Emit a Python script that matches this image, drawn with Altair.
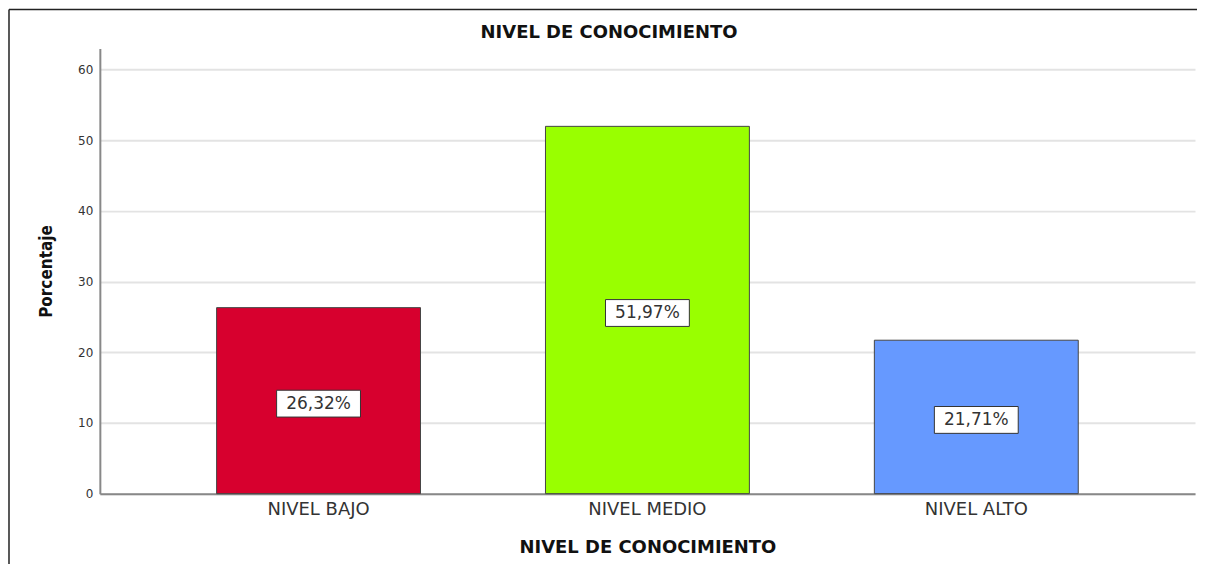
import altair as alt
import pandas as pd

categories = ["NIVEL BAJO", "NIVEL MEDIO", "NIVEL ALTO"]
values = [26.32, 51.97, 21.71]
labels = ["26,32%", "51,97%", "21,71%"]
colors = ["#d7002e", "#99ff00", "#6699ff"]
title_text = "NIVEL DE CONOCIMIENTO"

df = pd.DataFrame({"cat": categories, "val": values, "lab": labels})
df["mid"] = df["val"] / 2

x = alt.X("cat:N", sort=categories,
          scale=alt.Scale(paddingInner=0.38, paddingOuter=0.355),
          axis=alt.Axis(title=title_text, labelAngle=0, ticks=False,
                        labelFont="DejaVu Sans", labelFontSize=18, labelColor="#333333",
                        labelPadding=7, domainColor="#888888", domainWidth=2,
                        titleFont="DejaVu Sans", titleFontSize=18, titleFontWeight="bold",
                        titleColor="#111111", titlePadding=20))

bars = alt.Chart(df).mark_bar(stroke="#444444", strokeWidth=1).encode(
    x=x,
    y=alt.Y("val:Q", scale=alt.Scale(domain=[0, 63], nice=False),
            axis=alt.Axis(title="Porcentaje", values=[0, 10, 20, 30, 40, 50, 60],
                          ticks=False, labelFont="DejaVu Sans", labelFontSize=12,
                          labelColor="#333333", labelPadding=7,
                          domainColor="#888888", domainWidth=2,
                          gridColor="#e3e3e3", gridWidth=2,
                          titleFont="DejaVu Sans Condensed", titleFontSize=17,
                          titleFontWeight="bold", titleColor="#111111", titlePadding=22)),
    color=alt.Color("cat:N", sort=categories,
                    scale=alt.Scale(domain=categories, range=colors), legend=None),
)

boxes = alt.Chart(df).mark_point(
    shape="M-1,-0.32L1,-0.32L1,0.32L-1,0.32Z", size=7056, filled=False,
    fill="white", fillOpacity=1, stroke="#333333", strokeWidth=1, opacity=1,
).encode(x=alt.X("cat:N", sort=categories), y=alt.Y("mid:Q"), yOffset=alt.value(3))

texts = alt.Chart(df).mark_text(font="DejaVu Sans", fontSize=17, color="#333333",
                                 dy=3, baseline="middle").encode(
    x=alt.X("cat:N", sort=categories), y=alt.Y("mid:Q"), text="lab:N")

title_df = pd.DataFrame({"t": [title_text]})
title = alt.Chart(title_df).mark_text(font="DejaVu Sans", fontSize=18, fontWeight="bold",
                                      color="#111111", baseline="middle").encode(
    x=alt.value(510), y=alt.value(-15), text="t:N")

frame_top = alt.Chart(title_df).mark_rule(color="#222222", strokeWidth=1.5).encode(
    x=alt.value(-91), x2=alt.value(1110), y=alt.value(-39))
frame_left = alt.Chart(title_df).mark_rule(color="#222222", strokeWidth=1.5).encode(
    x=alt.value(-91), y=alt.value(-39), y2=alt.value(530))

chart = alt.layer(bars, boxes, texts, title, frame_top, frame_left).properties(
    width=1097, height=446,
    background="white",
    autosize=alt.AutoSizeParams(type="none"),
    padding={"left": 92, "top": 40, "right": 2, "bottom": 70},
).configure_view(stroke=None)

chart.save("out.html", embed_options={"renderer": "svg", "actions": False})
